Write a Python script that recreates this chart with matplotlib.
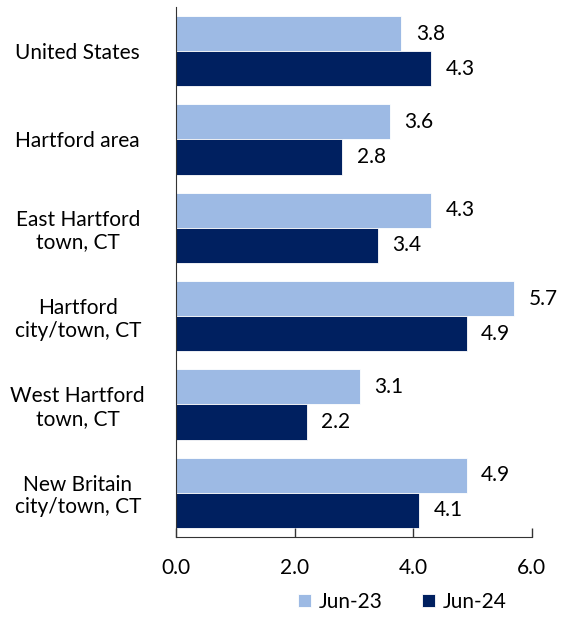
import matplotlib.pyplot as plt
import numpy as np

plt.rcParams['font.family'] = ['Lato', 'DejaVu Sans']

# Data
places = ['United States', 'Hartford area', 'East Hartford\ntown, CT',
          'Hartford\ncity/town, CT', 'West Hartford\ntown, CT',
          'New Britain\ncity/town, CT']
jun23 = [3.8, 3.6, 4.3, 5.7, 3.1, 4.9]
jun24 = [4.3, 2.8, 3.4, 4.9, 2.2, 4.1]
series_names = ['Jun-23', 'Jun-24']
xticks = [0.0, 2.0, 4.0, 6.0]

light = '#9DBAE4'
dark = '#002060'
fs = 15

fig = plt.figure(figsize=(5.64, 6.17), dpi=100)
ax = fig.add_axes([0.3126, 0.1297, 0.6301, 0.859])

y = np.arange(len(places))
h = 0.397
b1 = ax.barh(y - h / 2, jun23, height=h, color=light, edgecolor='white', linewidth=0.6, label=series_names[0])
b2 = ax.barh(y + h / 2, jun24, height=h, color=dark, edgecolor='white', linewidth=0.6, label=series_names[1])

for bars, vals in [(b1, jun23), (b2, jun24)]:
    for bar, v in zip(bars, vals):
        ax.annotate(f'{v:.1f}', (v, bar.get_y() + bar.get_height() / 2),
                    xytext=(10.5, 0), textcoords='offset points',
                    va='center', ha='left', fontsize=fs, color='black')

ax.set_ylim(len(places) - 0.5, -0.5)
ax.set_xlim(0, 6)
ax.set_xticks(xticks)
ax.set_xticklabels([f'{t:.1f}' for t in xticks], fontsize=fs)
ax.set_yticks(y)
ax.set_yticklabels(places, fontsize=fs, ha='center', multialignment='center', linespacing=1.15)
ax.tick_params(axis='y', length=0, pad=71)
ax.tick_params(axis='x', direction='in', length=6.5, width=1, color='#333333', pad=15)

for s in ['top', 'right']:
    ax.spines[s].set_visible(False)
ax.spines['left'].set_color('#333333')
ax.spines['bottom'].set_color('#333333')

fig.legend(handles=[b1, b2], labels=series_names, loc='lower center',
           bbox_to_anchor=(0.713, -0.022), ncol=2, frameon=False, fontsize=fs,
           handlelength=0.65, handleheight=0.65, handletextpad=0.35, columnspacing=1.9)

fig.savefig('out.png', dpi=100)
